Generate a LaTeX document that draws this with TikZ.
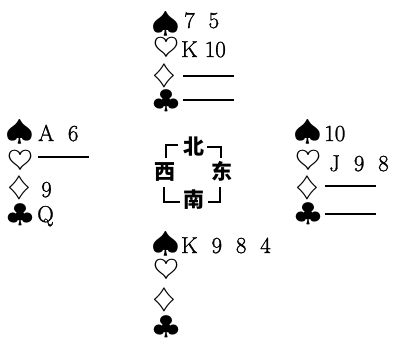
\documentclass[tikz,border=0pt]{standalone}
\usepackage{graphicx}
\usepackage{fontspec}
\newfontfamily\cjkfont{Noto Sans CJK SC}
\newfontfamily\cardfont{Latin Modern Roman}[FakeBold=1.2]
\newcommand{\gap}{\hspace{0.6em}}
\newcommand{\spd}{\scalebox{3.7}[2.9]{$\spadesuit$}}
\newcommand{\hrt}{\scalebox{3.4}[2.7]{$\heartsuit$}}
\newcommand{\dmd}{\scalebox{3.0}[2.7]{$\diamondsuit$}}
\newcommand{\clb}{\scalebox{3.4}[2.6]{$\clubsuit$}}

\begin{document}
\begin{tikzpicture}[
        x=1pt, y=-1pt,
        suit/.style={inner sep=0pt},
        cards/.style={anchor=base west, inner sep=0pt, font=\fontsize{23}{23}\selectfont\cardfont},
        void/.style={anchor=west, inner sep=0pt, minimum width=51pt, minimum height=1.4pt, fill=black},
        seat/.style={inner sep=0pt, font=\fontsize{21}{21}\selectfont\cjkfont\bfseries},
        bracket/.style={draw, line width=2.6pt}
    ]
    \useasboundingbox (0,0) rectangle (403,338);

    % North hand
    \node (nS) [suit] at (166,24) {\spd};
    \node (nH) [suit] at (166,49) {\hrt};
    \node (nD) [suit] at (164,76) {\dmd};
    \node (nC) [suit] at (166,101) {\clb};
    \node (nSc) [cards] at (184,28) {7\gap5};
    \node (nHc) [cards] at (181,57) {K 10};
    \node (nDc) [void] at (183,76) {};
    \node (nCc) [void] at (183,100) {};

    % West hand
    \node (wS) [suit] at (20,132) {\spd};
    \node (wH) [suit] at (20,162) {\hrt};
    \node (wD) [suit] at (19,188) {\dmd};
    \node (wC) [suit] at (20,215) {\clb};
    \node (wSc) [cards] at (38,141) {A\gap6};
    \node (wHc) [void] at (38,157) {};
    \node (wDc) [cards] at (41,197) {9};
    \node (wCc) [cards] at (37,222) {Q};

    % East hand
    \node (eS) [suit] at (308,132) {\spd};
    \node (eH) [suit] at (308,162) {\hrt};
    \node (eD) [suit] at (307,188) {\dmd};
    \node (eC) [suit] at (308,214) {\clb};
    \node (eSc) [cards] at (324,141) {10};
    \node (eHc) [cards] at (329,171) {J\gap9\gap8};
    \node (eDc) [void] at (325,186) {};
    \node (eCc) [void] at (325,214) {};

    % South hand
    \node (sS) [suit] at (166,244) {\spd};
    \node (sH) [suit] at (166,271) {\hrt};
    \node (sD) [suit] at (164,300) {\dmd};
    \node (sC) [suit] at (166,327) {\clb};
    \node (sSc) [cards] at (181,253) {K\gap9\gap8\gap4};

    % Compass
    \node (north) [seat] at (194,147) {北};
    \node (west) [seat] at (165,172) {西};
    \node (east) [seat] at (222,171) {东};
    \node (south) [seat] at (194,200) {南};
    \draw [bracket] (178,145) -- (166,145) -- (166,158);
    \draw [bracket] (207,147) -- (221,147) -- (221,158);
    \draw [bracket] (164,187) -- (164,202) -- (180,202);
    \draw [bracket] (208,202) -- (220,202) -- (220,187);
\end{tikzpicture}
\end{document}
